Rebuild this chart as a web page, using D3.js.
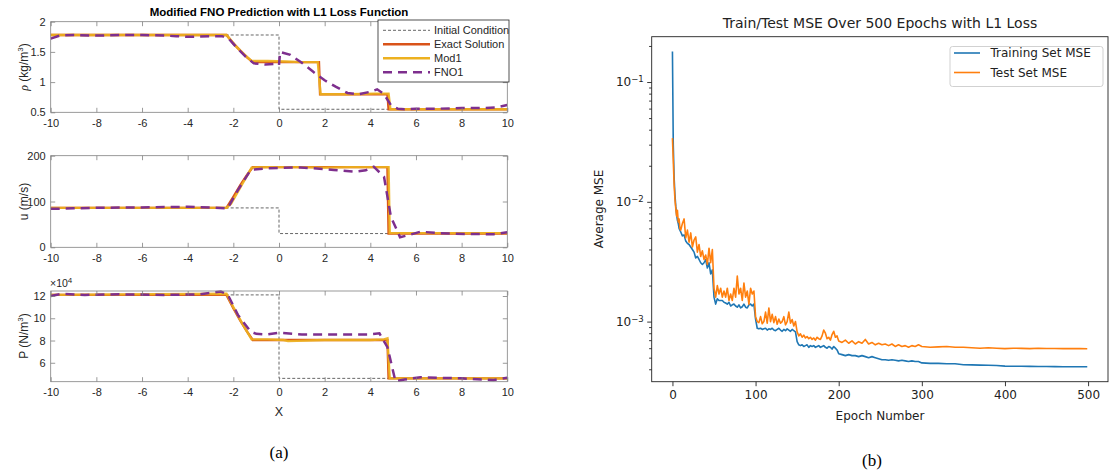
<!DOCTYPE html>
<html>
<head>
<meta charset="utf-8">
<script src="https://cdn.jsdelivr.net/npm/d3@7"></script>
<style>
  body { margin: 0; background: #fff; }
  svg { display: block; }
</style>
</head>
<body>
<svg id="fig" width="1112" height="471"></svg>
<script>
// ---------- (a) shock tube profiles ----------
const xTicksA = [-10, -8, -6, -4, -2, 0, 2, 4, 6, 8, 10];

const initX = [-10, 0, 0, 10];
const initRho = [1.78, 1.78, 0.55, 0.55];
const initU = [86, 86, 30, 30];
const initP = [121000, 121000, 46000, 46000];

const exactX = [-10, -2.3, -2.0, -1.7, -1.4, -1.15, 1.75, 1.8, 4.75, 4.8, 10];
const exactRho = [1.78, 1.78, 1.64, 1.52, 1.41, 1.33, 1.33, 0.80, 0.80, 0.55, 0.55];
const exactU = [86, 86, 110, 135, 158, 175, 175, 175, 175, 30, 30];
const exactP = [121000, 121000, 109000, 98000, 88000, 80500, 80500, 80500, 80500, 46000, 46000];

const mod1RhoX = [-10, -2.3, -1.9, -1.5, -1.2, -0.5, 0.3, 1.0, 1.7, 1.82, 3, 4.2, 4.8, 4.88, 7, 10];
const mod1Rho = [1.78, 1.78, 1.60, 1.45, 1.35, 1.35, 1.34, 1.33, 1.33, 0.80, 0.80, 0.81, 0.81, 0.55, 0.55, 0.55];
const mod1UX = [-10, -2.3, -2.1, -1.7, -1.2, -0.5, 1, 2, 3, 4, 4.8, 4.85, 6, 10];
const mod1U = [86, 86, 95, 130, 174, 175, 175, 174, 175, 175, 175, 31, 31, 31];
const mod1PX = [-10, -2.3, -2.0, -1.6, -1.2, -0.5, 0.2, 0.4, 2, 4, 4.6, 4.75, 4.85, 6, 10];
const mod1P = [121000, 122000, 110000, 95000, 81000, 81000, 80500, 79500, 80500, 80500, 81000, 82000, 46000, 46000, 46000];

const fnoRhoX = [-10, -9.6, -9, -8, -7, -6, -5, -4.5, -4, -3, -2.5, -2.2, -1.8, -1.4, -1.1, -0.6, -0.2, 0, 0.05, 0.5, 1.0, 1.5, 2.0, 2.5, 3.0, 3.5, 4.0, 4.3, 4.6, 4.9, 5.2, 5.5, 6, 7, 8, 9, 9.5, 10];
const fnoRho = [1.72, 1.77, 1.78, 1.77, 1.78, 1.78, 1.77, 1.76, 1.75, 1.76, 1.76, 1.72, 1.55, 1.40, 1.31, 1.29, 1.30, 1.28, 1.50, 1.45, 1.32, 1.17, 1.03, 0.92, 0.82, 0.80, 0.84, 0.88, 0.80, 0.62, 0.56, 0.55, 0.56, 0.56, 0.57, 0.57, 0.58, 0.62];
const fnoUX = [-10, -9, -7.8, -6, -4, -3, -2.25, -1.8, -1.24, -0.5, 0.95, 2.4, 3.3, 3.8, 4.15, 4.6, 4.9, 5.3, 5.7, 6.2, 7, 8.2, 9.4, 10];
const fnoU = [84, 85, 86.5, 87, 88.5, 87, 85, 125, 169, 172.5, 174.5, 169, 165, 168, 176, 154, 67, 22, 27, 34, 31, 29, 28.6, 33];
const fnoPX = [-10, -9.5, -8.5, -7, -5, -3.5, -2.55, -2.25, -1.8, -1.24, -1.0, -0.5, 0, 1, 2.5, 3.9, 4.4, 4.75, 5.1, 5.5, 6.2, 7, 8, 9.4, 10];
const fnoP = [120000, 122000, 121000, 121500, 121000, 121500, 124000, 121500, 103000, 88000, 86000, 85500, 87000, 85500, 85500, 85500, 86500, 74000, 43500, 45000, 47000, 46500, 46000, 44500, 46500];

const legendA = ["Initial Condition", "Exact Solution", "Mod1", "FNO1"];

// ---------- (b) training history ----------
const epochs = [
  0, 1, 2, 3, 4, 5, 6, 7, 8, 9,
  10, 12, 14, 16, 18, 20, 22, 24, 26, 28,
  30, 32, 34, 36, 38, 40, 42, 44, 46, 48,
  50, 52, 54, 56, 58, 60, 62, 64, 66, 68,
  70, 72, 74, 76, 78, 80, 82, 84, 86, 88,
  90, 92, 94, 96, 98, 100, 102, 104, 106, 108,
  110, 112, 114, 116, 118, 120, 122, 124, 126, 128,
  130, 132, 134, 136, 138, 140, 142, 144, 146, 148,
  150, 152, 154, 156, 158, 160, 162, 164, 166, 168,
  170, 172, 174, 176, 178, 180, 182, 184, 186, 188,
  190, 192, 194, 196, 198,
  200, 204, 208, 212, 216, 220, 224, 228, 232, 236,
  240, 244, 248, 252, 256, 260, 264, 268, 272, 276,
  280, 284, 288, 292, 296,
  300, 310, 320, 330, 340, 350, 360, 370, 380, 390,
  400, 410, 420, 430, 440, 450, 460, 470, 480, 490, 499
];
const trainMSE = [
  0.18, 0.030, 0.016, 0.0115, 0.0092, 0.0078, 0.0070, 0.0066, 0.0060, 0.0058,
  0.0056, 0.0052, 0.0053, 0.0047, 0.0045, 0.0044, 0.0042, 0.0040, 0.0038, 0.0034,
  0.0035, 0.0033, 0.0031, 0.0030, 0.0031, 0.0033, 0.0028, 0.0031, 0.0025, 0.0027,
  0.0016, 0.0014, 0.00155, 0.0015, 0.0015, 0.0015, 0.00145, 0.00143, 0.0014, 0.00145,
  0.00135, 0.00138, 0.0014, 0.00135, 0.00132, 0.00138, 0.0013, 0.00133, 0.0014, 0.00132,
  0.0013, 0.00138, 0.0014, 0.00135, 0.0014, 0.00105, 0.00088, 0.00087, 0.00088, 0.00086,
  0.00087, 0.00088, 0.00085, 0.00087, 0.00086, 0.00088, 0.00085, 0.00084, 0.00086, 0.00088,
  0.00085, 0.00083, 0.00086, 0.00084, 0.00087, 0.00085, 0.00083, 0.00086, 0.00084, 0.00082,
  0.00068, 0.00064, 0.00063, 0.00064, 0.00062, 0.00063, 0.00064, 0.00061, 0.00063, 0.00062,
  0.00063, 0.00061, 0.00062, 0.00063, 0.00061, 0.00062, 0.00063, 0.00061, 0.00060, 0.00062,
  0.00061, 0.00059, 0.00062, 0.00060, 0.00058,
  0.00054, 0.00053, 0.00052, 0.00053, 0.00052, 0.00052, 0.00051, 0.00052, 0.00051, 0.00050,
  0.00051, 0.00050, 0.00049, 0.00048, 0.00048, 0.000475, 0.00048, 0.000475, 0.00047, 0.000475,
  0.00047, 0.000465, 0.00047, 0.000465, 0.000465,
  0.000452, 0.000448, 0.000448, 0.000445, 0.000445, 0.000436, 0.000435, 0.000433, 0.000432, 0.00043,
  0.000425, 0.000424, 0.000424, 0.000423, 0.000422, 0.000422, 0.000421, 0.00042, 0.00042, 0.00042, 0.00042
];
const testMSE = [
  0.034, 0.022, 0.014, 0.0105, 0.0088, 0.0076, 0.0085, 0.0068, 0.0072, 0.0060,
  0.0058, 0.0066, 0.0072, 0.0050, 0.0058, 0.0046, 0.0055, 0.0042, 0.0048, 0.0051,
  0.0038, 0.0044, 0.0035, 0.0039, 0.0033, 0.0036, 0.0030, 0.0041, 0.0031, 0.0040,
  0.0019, 0.0016, 0.0020, 0.0017, 0.0019, 0.0016, 0.0018, 0.0016, 0.0019, 0.0015,
  0.0017, 0.0015, 0.0019, 0.0016, 0.0024, 0.0017, 0.0019, 0.0015, 0.0021, 0.0016,
  0.0018, 0.0014, 0.0019, 0.0017, 0.0018, 0.0011, 0.0010, 0.00098, 0.0011, 0.00096,
  0.0010, 0.0012, 0.00097, 0.0013, 0.0010, 0.00115, 0.00098, 0.0011, 0.00095, 0.00105,
  0.00097, 0.0010, 0.0011, 0.00094, 0.0010, 0.0012, 0.00097, 0.00104, 0.00092, 0.0010,
  0.00082, 0.00076, 0.00079, 0.00074, 0.00077, 0.00073, 0.00075, 0.00072, 0.00074, 0.00071,
  0.00073, 0.00070, 0.00074, 0.00072, 0.00071, 0.00076, 0.00085, 0.00080, 0.00072, 0.00074,
  0.00070, 0.00078, 0.00083, 0.00074, 0.00076,
  0.00069, 0.00067, 0.00070, 0.00066, 0.00069, 0.00065, 0.00068, 0.00066, 0.00071, 0.00065,
  0.00067, 0.00064, 0.00066, 0.00064, 0.00065, 0.00063, 0.00065, 0.00062, 0.00064, 0.00062,
  0.00063, 0.00061, 0.00063, 0.00062, 0.00064,
  0.00062, 0.00061, 0.000615, 0.00062, 0.00061, 0.00061, 0.000605, 0.0006, 0.000605, 0.0006,
  0.000595, 0.0006, 0.000598, 0.000595, 0.0006, 0.000597, 0.000596, 0.000595, 0.000597, 0.000595, 0.000594
];
const xTicksB = [0, 100, 200, 300, 400, 500];
const majorTicksB = [1e-3, 1e-2, 1e-1];
const majorLabelsB = ["\u22123", "\u22122", "\u22121"];
const minorTicksB = [4e-4, 5e-4, 6e-4, 7e-4, 8e-4, 9e-4, 2e-3, 3e-3, 4e-3, 5e-3, 6e-3, 7e-3, 8e-3, 9e-3,
                     2e-2, 3e-2, 4e-2, 5e-2, 6e-2, 7e-2, 8e-2, 9e-2, 2e-1];
const legendB = ["Training Set MSE", "Test Set MSE"];

// ---------- drawing ----------
const svg = d3.select("#fig");
const fontA = "'Liberation Sans', Arial, Helvetica, sans-serif";
const fontB = "'DejaVu Sans', sans-serif";
const textA = "#262626";
const boxA = "#808080";

const colInit = "#404040", colExact = "#D95319", colMod = "#EDB120", colFno = "#7E2F8E";

const xA = d3.scaleLinear().domain([-10, 10]).range([50.7, 507.3]);

const panels = [
  { top: 21.7, bottom: 112.3, domain: [0.5, 2], ticks: [0.5, 1, 1.5, 2], fmt: d3.format(""),
    init: initRho, exact: exactRho, modX: mod1RhoX, mod: mod1Rho, fnoX: fnoRhoX, fno: fnoRho },
  { top: 155.7, bottom: 247.3, domain: [0, 200], ticks: [0, 100, 200], fmt: d3.format(""),
    init: initU, exact: exactU, modX: mod1UX, mod: mod1U, fnoX: fnoUX, fno: fnoU },
  { top: 291, bottom: 381.7, domain: [43000, 124500], ticks: [60000, 80000, 100000, 120000], fmt: d => d / 1e4,
    init: initP, exact: exactP, modX: mod1PX, mod: mod1P, fnoX: fnoPX, fno: fnoP }
];

function zip(xs, ys) { return xs.map((x, i) => [x, ys[i]]); }

function styleAxisA(g) {
  g.select(".domain").remove();
  g.selectAll("line").attr("stroke", boxA).attr("stroke-width", 0.8);
  g.selectAll("text").attr("fill", textA).style("font-family", fontA).style("font-size", "11px");
}

panels.forEach((p, idx) => {
  const y = d3.scaleLinear().domain(p.domain).range([p.bottom, p.top]);
  const g = svg.append("g");

  g.append("rect").attr("x", xA(-10)).attr("y", p.top)
    .attr("width", xA(10) - xA(-10)).attr("height", p.bottom - p.top)
    .attr("fill", "#fff");

  const clipId = "clipA" + idx;
  g.append("clipPath").attr("id", clipId).append("rect")
    .attr("x", xA(-10)).attr("y", p.top - 2).attr("width", xA(10) - xA(-10)).attr("height", p.bottom - p.top + 4);

  const line = d3.line().x(d => xA(d[0])).y(d => y(d[1]));
  const plot = g.append("g").attr("clip-path", `url(#${clipId})`);

  plot.append("path").attr("d", line(zip(initX, p.init)))
    .attr("fill", "none").attr("stroke", colInit).attr("stroke-width", 0.8).attr("stroke-dasharray", "3,2");
  plot.append("path").attr("d", line(zip(exactX, p.exact)))
    .attr("fill", "none").attr("stroke", colExact).attr("stroke-width", 2.4);
  plot.append("path").attr("d", line(zip(p.modX, p.mod)))
    .attr("fill", "none").attr("stroke", colMod).attr("stroke-width", 2.4).attr("stroke-opacity", 0.92);
  plot.append("path").attr("d", line(zip(p.fnoX, p.fno)))
    .attr("fill", "none").attr("stroke", colFno).attr("stroke-width", 2.5).attr("stroke-dasharray", "9,6");

  // axes with inward ticks, mirrored on the box
  g.append("g").attr("transform", `translate(0,${p.bottom})`)
    .call(d3.axisBottom(xA).tickValues(xTicksA).tickSize(-4.5).tickPadding(6.5).tickFormat(d => d))
    .call(styleAxisA);
  g.append("g").attr("transform", `translate(0,${p.top})`)
    .call(d3.axisTop(xA).tickValues(xTicksA).tickSize(-4.5).tickFormat(""))
    .call(styleAxisA);
  g.append("g").attr("transform", `translate(${xA(-10)},0)`)
    .call(d3.axisLeft(y).tickValues(p.ticks).tickSize(-4.5).tickPadding(5).tickFormat(p.fmt))
    .call(styleAxisA);
  g.append("g").attr("transform", `translate(${xA(10)},0)`)
    .call(d3.axisRight(y).tickValues(p.ticks).tickSize(-4.5).tickFormat(""))
    .call(styleAxisA);

  g.append("rect").attr("x", xA(-10)).attr("y", p.top)
    .attr("width", xA(10) - xA(-10)).attr("height", p.bottom - p.top)
    .attr("fill", "none").attr("stroke", boxA).attr("stroke-width", 0.8);
});

// y labels for (a)
function ylabelA(cy, build) {
  const t = svg.append("text")
    .attr("transform", `translate(28,${cy}) rotate(-90)`)
    .attr("text-anchor", "middle")
    .attr("fill", textA).style("font-family", fontA).style("font-size", "12px");
  build(t);
}
ylabelA(67, t => {
  t.append("tspan").style("font-family", "'Liberation Serif', serif").style("font-style", "italic").text("\u03C1");
  t.append("tspan").text(" (kg/m");
  t.append("tspan").attr("dy", -5).style("font-size", "8px").text("3");
  t.append("tspan").attr("dy", 5).text(")");
});
ylabelA(201.5, t => t.text("u (m/s)"));
ylabelA(336, t => {
  t.append("tspan").text("P (N/m");
  t.append("tspan").attr("dy", -5).style("font-size", "8px").text("3");
  t.append("tspan").attr("dy", 5).text(")");
});

// x10^4 multiplier
const mult = svg.append("text").attr("x", 50).attr("y", 287)
  .attr("fill", textA).style("font-family", fontA).style("font-size", "10.5px");
mult.append("tspan").text("\u00D710");
mult.append("tspan").attr("dy", -4).style("font-size", "8px").text("4");

svg.append("text").attr("x", xA(0)).attr("y", 416).attr("text-anchor", "middle")
  .attr("fill", textA).style("font-family", fontA).style("font-size", "12.5px").text("X");

svg.append("text").attr("x", 279).attr("y", 15.5).attr("text-anchor", "middle")
  .attr("fill", "#000").style("font-family", fontA).style("font-size", "11.5px").style("font-weight", "bold")
  .text("Modified FNO Prediction with L1 Loss Function");

// legend (a)
const legA = svg.append("g");
legA.append("rect").attr("x", 378).attr("y", 20).attr("width", 131).attr("height", 62)
  .attr("fill", "#fff").attr("stroke", "#262626").attr("stroke-width", 0.8);
const legStyles = [
  { c: colInit, w: 0.8, dash: "3,2" },
  { c: colExact, w: 2.4, dash: null },
  { c: colMod, w: 2.4, dash: null },
  { c: colFno, w: 2.5, dash: "9,6" }
];
legendA.forEach((name, i) => {
  const yy = 30.3 + i * 14;
  const s = legStyles[i];
  const l = legA.append("line").attr("x1", 383).attr("x2", 430).attr("y1", yy).attr("y2", yy)
    .attr("stroke", s.c).attr("stroke-width", s.w);
  if (s.dash) l.attr("stroke-dasharray", s.dash);
  legA.append("text").attr("x", 434).attr("y", yy + 4).attr("fill", textA)
    .style("font-family", fontA).style("font-size", "11px").text(name);
});

svg.append("text").attr("x", 279).attr("y", 458).attr("text-anchor", "middle")
  .attr("fill", "#000").style("font-family", "'Liberation Serif', 'Times New Roman', serif").style("font-size", "17px")
  .text("(a)");

// ---------- (b) ----------
const xB = d3.scaleLinear().domain([-24.95, 523.95]).range([651.7, 1108]);
const yB = d3.scaleLog().domain([3.15e-4, 0.239]).range([381.7, 36.7]);
const textB = "#222";

const gB = svg.append("g");
gB.append("clipPath").attr("id", "clipB").append("rect")
  .attr("x", 651.7).attr("y", 36.7).attr("width", 1108 - 651.7).attr("height", 381.7 - 36.7);

const lineB = d3.line().x(d => xB(d[0])).y(d => yB(d[1]));
const plotB = gB.append("g").attr("clip-path", "url(#clipB)");
plotB.append("path").attr("d", lineB(zip(epochs, trainMSE)))
  .attr("fill", "none").attr("stroke", "#1f77b4").attr("stroke-width", 1.6).attr("stroke-linejoin", "round");
plotB.append("path").attr("d", lineB(zip(epochs, testMSE)))
  .attr("fill", "none").attr("stroke", "#ff7f0e").attr("stroke-width", 1.6).attr("stroke-linejoin", "round");

function styleAxisB(g) {
  g.select(".domain").remove();
  g.selectAll("line").attr("stroke", textB).attr("stroke-width", 0.9);
  g.selectAll("text").attr("fill", textB).style("font-family", fontB).style("font-size", "12px");
}

gB.append("g").attr("transform", "translate(0,381.7)")
  .call(d3.axisBottom(xB).tickValues(xTicksB).tickSize(4.5).tickPadding(4).tickFormat(d => d))
  .call(styleAxisB);

gB.append("g").attr("transform", "translate(651.7,0)")
  .call(d3.axisLeft(yB).tickValues(minorTicksB).tickSize(2.6).tickFormat(""))
  .call(styleAxisB);

const yMajor = gB.append("g").attr("transform", "translate(651.7,0)")
  .call(d3.axisLeft(yB).tickValues(majorTicksB).tickSize(4.5).tickPadding(4).tickFormat(""))
  .call(styleAxisB);
yMajor.selectAll(".tick").each(function (d, i) {
  const t = d3.select(this).append("text")
    .attr("x", -8).attr("dy", "0.32em").attr("text-anchor", "end")
    .attr("fill", textB).style("font-family", fontB).style("font-size", "12px");
  t.append("tspan").text("10");
  t.append("tspan").attr("dy", "-0.5em").style("font-size", "8.5px").text(majorLabelsB[i]);
});

gB.append("rect").attr("x", 651.7).attr("y", 36.7).attr("width", 1108 - 651.7).attr("height", 381.7 - 36.7)
  .attr("fill", "none").attr("stroke", textB).attr("stroke-width", 0.9);

svg.append("text").attr("x", 880).attr("y", 27.5).attr("text-anchor", "middle")
  .attr("fill", textB).style("font-family", fontB).style("font-size", "14px")
  .text("Train/Test MSE Over 500 Epochs with L1 Loss");
svg.append("text").attr("x", 880).attr("y", 420).attr("text-anchor", "middle")
  .attr("fill", textB).style("font-family", fontB).style("font-size", "12px").text("Epoch Number");
svg.append("text").attr("transform", "translate(603,209) rotate(-90)").attr("text-anchor", "middle")
  .attr("fill", textB).style("font-family", fontB).style("font-size", "12px").text("Average MSE");

// legend (b)
const legB = svg.append("g");
legB.append("rect").attr("x", 950).attr("y", 46.5).attr("width", 153).attr("height", 40).attr("rx", 2.5)
  .attr("fill", "#fff").attr("fill-opacity", 0.8).attr("stroke", "#ccc").attr("stroke-width", 0.9);
const colsB = ["#1f77b4", "#ff7f0e"];
legendB.forEach((name, i) => {
  const yy = 53 + i * 19.5;
  legB.append("line").attr("x1", 954).attr("x2", 980).attr("y1", yy).attr("y2", yy)
    .attr("stroke", colsB[i]).attr("stroke-width", 1.6);
  legB.append("text").attr("x", 990.5).attr("y", yy + 4.3).attr("fill", textB)
    .style("font-family", fontB).style("font-size", "12px").text(name);
});

svg.append("text").attr("x", 872).attr("y", 466).attr("text-anchor", "middle")
  .attr("fill", "#000").style("font-family", "'Liberation Serif', 'Times New Roman', serif").style("font-size", "17px")
  .text("(b)");
</script>
</body>
</html>
